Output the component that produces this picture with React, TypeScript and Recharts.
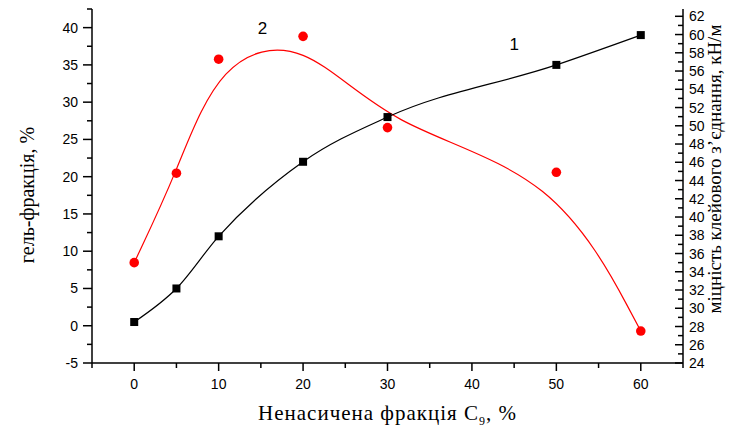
import { ComposedChart, Label, Line, ReferenceDot, XAxis, YAxis } from "recharts";

// Ненасичена фракція C9, %
const fraction = [0, 5, 10, 20, 30, 50, 60];
// 1 — гель-фракція, % (ліва вісь)
const gelFraction = [0.5, 5, 12, 22, 28, 35, 39];
// 2 — міцність клейового з'єднання, кН/м (права вісь)
const bondStrength = [35, 44.8, 57.3, 59.8, 49.8, 44.9, 27.5];

const xTicks = [-5, 0, 5, 10, 15, 20, 25, 30, 35, 40, 45, 50, 55, 60, 65];
const xLabelled = [0, 10, 20, 30, 40, 50, 60];
const leftTicks = [-5, -2.5, 0, 2.5, 5, 7.5, 10, 12.5, 15, 17.5, 20, 22.5, 25, 27.5, 30, 32.5, 35, 37.5, 40, 42.5];
const leftLabelled = [-5, 0, 5, 10, 15, 20, 25, 30, 35, 40];
const rightTicks = [24, 25, 26, 27, 28, 29, 30, 31, 32, 33, 34, 35, 36, 37, 38, 39, 40, 41, 42, 43, 44, 45, 46, 47, 48, 49, 50, 51, 52, 53, 54, 55, 56, 57, 58, 59, 60, 61, 62];
const rightLabelled = [24, 26, 28, 30, 32, 34, 36, 38, 40, 42, 44, 46, 48, 50, 52, 54, 56, 58, 60, 62];

const rows = fraction.map((x, i) => ({ x, gel: gelFraction[i], strength: bondStrength[i] }));

const SANS = "'Liberation Sans', Arial, sans-serif";
const SERIF = "'Liberation Serif', 'Times New Roman', serif";

function LeftTick({ x, y, payload }: any) {
  const major = leftLabelled.includes(payload.value);
  return (
    <g>
      <line x1={x - (major ? 9 : 5)} y1={y} x2={x} y2={y} stroke="#000" strokeWidth={1.5} />
      {major && (
        <text x={x - 14} y={y} dy={5} textAnchor="end" fontFamily={SANS} fontSize={14} fill="#000">
          {payload.value}
        </text>
      )}
    </g>
  );
}

function RightTick({ x, y, payload }: any) {
  const major = rightLabelled.includes(payload.value);
  return (
    <g>
      <line x1={x - (major ? 8 : 5)} y1={y} x2={x} y2={y} stroke="#000" strokeWidth={1.5} />
      {major && (
        <text x={x + 6} y={y} dy={5} textAnchor="start" fontFamily={SANS} fontSize={14} fill="#000">
          {payload.value}
        </text>
      )}
    </g>
  );
}

function BottomTick({ x, y, payload }: any) {
  const major = xLabelled.includes(payload.value);
  return (
    <g>
      <line x1={x} y1={y} x2={x} y2={y + (major ? 8 : 5)} stroke="#000" strokeWidth={1.5} />
      {major && (
        <text x={x} y={y + 26} textAnchor="middle" fontFamily={SANS} fontSize={14} fill="#000">
          {payload.value}
        </text>
      )}
    </g>
  );
}

function SquareDot({ cx, cy }: any) {
  if (cx == null || cy == null) return null;
  return <rect x={cx - 4} y={cy - 4} width={8} height={8} fill="#000" />;
}

function CircleDot({ cx, cy }: any) {
  if (cx == null || cy == null) return null;
  return <circle cx={cx} cy={cy} r={4.8} fill="#ff0000" />;
}

function LeftTitle({ viewBox }: any) {
  const cx = viewBox.x + 27;
  const cy = viewBox.y + viewBox.height / 2 + 9;
  return (
    <text x={cx} y={cy} transform={`rotate(-90 ${cx} ${cy})`} textAnchor="middle" dominantBaseline="central"
      fontFamily={SERIF} fontSize={20} fill="#000">
      гель-фракція, %
    </text>
  );
}

function RightTitle({ viewBox }: any) {
  const cx = viewBox.x + 31;
  const cy = viewBox.y + 160;
  return (
    <text x={cx} y={cy} transform={`rotate(-90 ${cx} ${cy})`} textAnchor="middle" dominantBaseline="central"
      fontFamily={SERIF} fontSize={19} fill="#000">
      міцність клейового з’єднання, кН/м
    </text>
  );
}

function BottomTitle({ viewBox }: any) {
  const cx = viewBox.x + viewBox.width / 2;
  const cy = viewBox.y + 57;
  return (
    <text x={cx} y={cy} textAnchor="middle" fontFamily={SERIF} fontSize={21} letterSpacing={1} fill="#000">
      Ненасичена фракція C<tspan fontSize={12} dy={5}>9</tspan><tspan dy={-5}>, %</tspan>
    </text>
  );
}

export default function App() {
  return (
    <div style={{ width: 731, height: 427, background: "#fff" }}>
      <style>{"body{margin:0}"}</style>
      <ComposedChart width={731} height={427} data={rows} margin={{ top: 9, right: 0, bottom: 0, left: 0 }}>
        <XAxis
          dataKey="x"
          type="number"
          domain={[-5, 65]}
          ticks={xTicks}
          interval={0}
          height={64}
          tickSize={0}
          tickMargin={0}
          tickLine={false}
          tick={<BottomTick />}
          axisLine={{ stroke: "#000", strokeWidth: 1.5 }}
          allowDataOverflow
        >
          <Label content={<BottomTitle />} />
        </XAxis>
        <YAxis
          yAxisId="left"
          domain={[-5, 42.5]}
          ticks={leftTicks}
          interval={0}
          width={92}
          tickSize={0}
          tickMargin={0}
          tickLine={false}
          tick={<LeftTick />}
          axisLine={{ stroke: "#000", strokeWidth: 1.5 }}
          allowDataOverflow
        >
          <Label content={<LeftTitle />} />
        </YAxis>
        <YAxis
          yAxisId="right"
          orientation="right"
          domain={[24, 62.8]}
          ticks={rightTicks}
          interval={0}
          width={48}
          tickSize={0}
          tickMargin={0}
          tickLine={false}
          tick={<RightTick />}
          axisLine={{ stroke: "#000", strokeWidth: 1.5 }}
          allowDataOverflow
        >
          <Label content={<RightTitle />} />
        </YAxis>
        <Line
          yAxisId="right"
          type="basis"
          dataKey="strength"
          stroke="#ff0000"
          strokeWidth={1.2}
          dot={false}
          activeDot={false}
          isAnimationActive={false}
        />
        <Line
          yAxisId="right"
          dataKey="strength"
          stroke="none"
          dot={<CircleDot />}
          activeDot={false}
          isAnimationActive={false}
        />
        <Line
          yAxisId="left"
          type="monotone"
          dataKey="gel"
          stroke="#000"
          strokeWidth={1.2}
          dot={<SquareDot />}
          activeDot={false}
          isAnimationActive={false}
        />
        <ReferenceDot
          yAxisId="left"
          x={15.2}
          y={40}
          r={0}
          fill="none"
          stroke="none"
          label={{ value: "2", position: "center", fontSize: 17, fill: "#000", fontFamily: SANS }}
        />
        <ReferenceDot
          yAxisId="left"
          x={45}
          y={37.8}
          r={0}
          fill="none"
          stroke="none"
          label={{ value: "1", position: "center", fontSize: 17, fill: "#000", fontFamily: SANS }}
        />
      </ComposedChart>
    </div>
  );
}
